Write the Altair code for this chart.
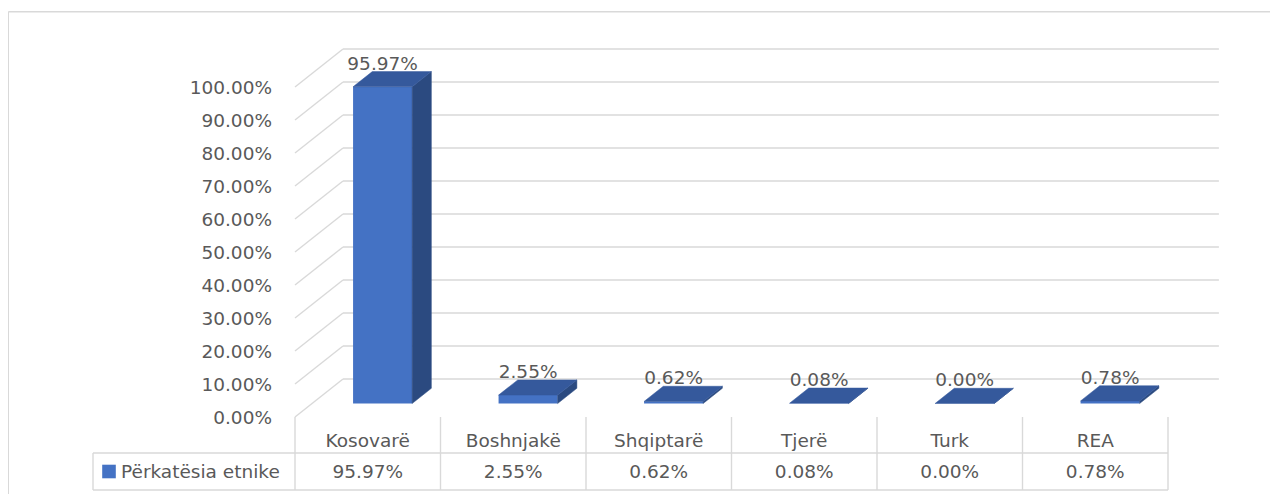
import altair as alt
import pandas as pd

# ---------------- data ----------------
categories = ["Kosovarë", "Boshnjakë", "Shqiptarë", "Tjerë", "Turk", "REA"]
values = [95.97, 2.55, 0.62, 0.08, 0.00, 0.78]
tick_values = [0, 10, 20, 30, 40, 50, 60, 70, 80, 90, 100]
series_name = "Përkatësia etnike"

# ---------------- layout / projection (page pixels) ----------------
W, H = 1262, 486
MARGIN = 8
ORIGIN_X, ORIGIN_Y = 295.0, 417.0     # front-left corner of the floor
COL_W = 145.5                          # width of one category column
PX_PER_PCT = 3.30                      # vertical pixels per percent
DEPTH_DX, DEPTH_DY = 48.0, 38.0        # floor depth vector
BACK_END_C = 6.02                      # right end of back wall
BAR_L, BAR_R = 0.282, 0.688            # bar extent within its column
BAR_D, BAR_DEPTH = 0.355, 0.40         # bar front depth and thickness

FONT = "DejaVu Sans"
FS = 18.5
TXT = "#595959"
GRID = "#d9d9d9"
FRONT = "#4472C4"
SIDE = "#2B4A80"
TOP = "#35599C"


def X(c, d=0.0):
    return c + d * DEPTH_DX / COL_W


def Y(v, d=0.0):
    return v + d * DEPTH_DY / PX_PER_PCT


def px(page_x):
    return (page_x - ORIGIN_X) / COL_W


def py(page_y):
    return (ORIGIN_Y - page_y) / PX_PER_PCT


xs = alt.Scale(domain=[px(MARGIN), px(MARGIN + W)], zero=False, nice=False)
ys = alt.Scale(domain=[py(MARGIN + H), py(MARGIN)], zero=False, nice=False)


def enc_xy(xf="x", yf="y"):
    return dict(
        x=alt.X(f"{xf}:Q", scale=xs, axis=None),
        y=alt.Y(f"{yf}:Q", scale=ys, axis=None, stack=None),
    )


def fmt(v):
    return f"{v:.2f}%"


n = len(categories)

# ---------------- segments: border, grid, table ----------------
segs = []
# outer border (top and left edge)
segs.append(dict(x=px(8.3), y=py(11.7), x2=px(MARGIN + W), y2=py(11.7)))
segs.append(dict(x=px(8.3), y=py(11.7), x2=px(8.3), y2=py(MARGIN + H)))
# gridlines: side wall diagonal + back wall
for t in tick_values:
    segs.append(dict(x=X(0, 0), y=Y(t, 0), x2=X(0, 1), y2=Y(t, 1)))
    segs.append(dict(x=X(0, 1), y=Y(t, 1), x2=X(BACK_END_C, 1), y2=Y(t, 1)))
# data table
TAB_TOP, TAB_MID, TAB_BOT, TAB_LEFT = 417.0, 453.0, 490.0, 93.0
for k in range(n + 1):
    segs.append(dict(x=X(k), y=py(TAB_TOP), x2=X(k), y2=py(TAB_BOT)))
segs.append(dict(x=px(TAB_LEFT), y=py(TAB_MID), x2=px(TAB_LEFT), y2=py(TAB_BOT)))
for yy in (TAB_MID, TAB_BOT):
    segs.append(dict(x=px(TAB_LEFT), y=py(yy), x2=X(n), y2=py(yy)))
seg_df = pd.DataFrame(segs)

rules = alt.Chart(seg_df).mark_rule(color=GRID, strokeWidth=1.4).encode(
    **enc_xy(), x2="x2:Q", y2="y2:Q"
)

# ---------------- bars ----------------
front_rows, side_rows, top_rows, lab_rows = [], [], [], []
for i, (cat, v) in enumerate(zip(categories, values)):
    front_rows.append(dict(cat=cat, x=X(i + BAR_L, BAR_D), x2=X(i + BAR_R, BAR_D),
                           y=Y(0, BAR_D), y2=Y(v, BAR_D)))
    for d in (BAR_D, BAR_D + BAR_DEPTH):
        side_rows.append(dict(cat=cat, x=X(i + BAR_R, d), yt=Y(v, d), yb=Y(0, d)))
        top_rows.append(dict(cat=cat, y=Y(v, d), xl=X(i + BAR_L, d), xr=X(i + BAR_R, d)))
    lab_rows.append(dict(cat=cat, x=X(i + (BAR_L + BAR_R) / 2, BAR_D),
                         y=Y(v, BAR_D + BAR_DEPTH), label=fmt(v)))

front = alt.Chart(pd.DataFrame(front_rows)).mark_rect(color=FRONT).encode(
    **enc_xy(), x2="x2:Q", y2="y2:Q"
)
side = alt.Chart(pd.DataFrame(side_rows)).mark_area(
    color=SIDE, opacity=1, orient="vertical", stroke=SIDE, strokeWidth=0.5
).encode(**enc_xy("x", "yt"), y2="yb:Q", detail="cat:N")
top = alt.Chart(pd.DataFrame(top_rows)).mark_area(
    color=TOP, opacity=1, orient="horizontal", stroke=TOP, strokeWidth=0.5
).encode(**enc_xy("xl", "y"), x2="xr:Q", detail="cat:N")

bar_labels = alt.Chart(pd.DataFrame(lab_rows)).mark_text(
    font=FONT, fontSize=FS, color=TXT, align="center", baseline="alphabetic", dy=-2
).encode(**enc_xy(), text="label:N")

# ---------------- value axis labels ----------------
ax_df = pd.DataFrame(dict(x=[X(0, 0)] * len(tick_values),
                          y=[Y(t, 0) for t in tick_values],
                          label=[fmt(t) for t in tick_values]))
axis_labels = alt.Chart(ax_df).mark_text(
    font=FONT, fontSize=FS, color=TXT, align="right", baseline="middle", dx=-23, dy=1
).encode(**enc_xy(), text="label:N")

# ---------------- table text ----------------
cat_df = pd.DataFrame(dict(x=[X(i + 0.5) for i in range(n)], y=[py(441)] * n, label=categories))
val_df = pd.DataFrame(dict(x=[X(i + 0.5) for i in range(n)], y=[py(471.5)] * n,
                           label=[fmt(v) for v in values]))
cat_text = alt.Chart(cat_df).mark_text(
    font=FONT, fontSize=FS, color=TXT, align="center", baseline="middle"
).encode(**enc_xy(), text="label:N")
val_text = alt.Chart(val_df).mark_text(
    font=FONT, fontSize=FS, color=TXT, align="center", baseline="middle"
).encode(**enc_xy(), text="label:N")

leg_df = pd.DataFrame(dict(x=[px(109)], y=[py(471.5)], label=[series_name]))
leg_sq = alt.Chart(leg_df).mark_square(color=FRONT, size=185, opacity=1, filled=True).encode(**enc_xy())
leg_txt_df = pd.DataFrame(dict(x=[px(121)], y=[py(471.5)], label=[series_name]))
leg_txt = alt.Chart(leg_txt_df).mark_text(
    font=FONT, fontSize=FS, color=TXT, align="left", baseline="middle"
).encode(**enc_xy(), text="label:N")

chart = alt.layer(
    rules, front, side, top, bar_labels, axis_labels, cat_text, val_text, leg_sq, leg_txt
).properties(
    width=W, height=H, padding=0, autosize=alt.AutoSizeParams(type="none"), background="white"
).configure_view(stroke=None)

chart.save("out.html", embed_options={"renderer": "svg", "actions": False})
